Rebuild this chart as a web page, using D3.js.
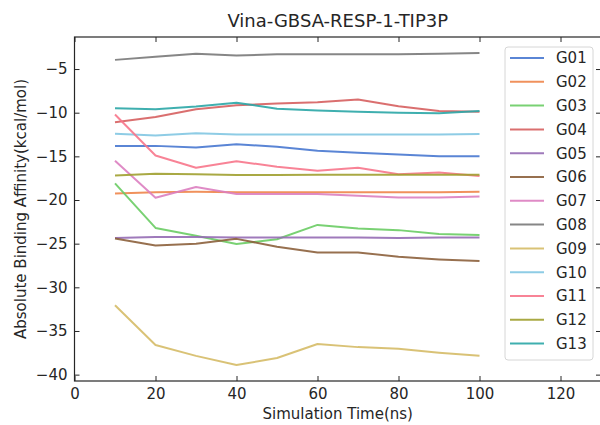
<!DOCTYPE html>
<html>
<head>
<meta charset="utf-8">
<script src="https://cdn.jsdelivr.net/npm/d3@7"></script>
<style>
body { margin: 0; background: #fff; }
text { font-family: "DejaVu Sans", sans-serif; fill: #262626; }
</style>
</head>
<body>
<svg id="chart" width="600" height="425"></svg>
<script>
'use strict'

// simulation time (ns)
var times = [10, 20, 30, 40, 50, 60, 70, 80, 90, 100];

// binding affinity per group (kcal/mol)
var G01 = [-13.8, -13.8, -14.0, -13.6, -13.9, -14.35, -14.6, -14.8, -15.0, -15.0];
var G02 = [-19.25, -19.1, -19.05, -19.1, -19.1, -19.1, -19.1, -19.1, -19.1, -19.05];
var G03 = [-18.1, -23.2, -24.1, -25.05, -24.5, -22.85, -23.25, -23.45, -23.9, -24.0];
var G04 = [-11.1, -10.5, -9.6, -9.15, -8.95, -8.8, -8.5, -9.25, -9.8, -9.9];
var G05 = [-24.35, -24.25, -24.25, -24.3, -24.3, -24.3, -24.3, -24.35, -24.3, -24.3];
var G06 = [-24.4, -25.2, -25.0, -24.45, -25.35, -26.0, -26.0, -26.5, -26.8, -27.0];
var G07 = [-15.5, -19.75, -18.5, -19.3, -19.3, -19.3, -19.5, -19.7, -19.7, -19.6];
var G08 = [-3.95, -3.6, -3.25, -3.45, -3.3, -3.3, -3.3, -3.3, -3.25, -3.15];
var G09 = [-32.05, -36.6, -37.85, -38.9, -38.1, -36.5, -36.85, -37.05, -37.5, -37.85];
var G10 = [-12.4, -12.6, -12.35, -12.5, -12.5, -12.5, -12.5, -12.5, -12.5, -12.45];
var G11 = [-10.2, -14.9, -16.3, -15.55, -16.2, -16.65, -16.3, -17.05, -16.85, -17.25];
var G12 = [-17.2, -17.0, -17.05, -17.15, -17.15, -17.1, -17.1, -17.1, -17.1, -17.1];
var G13 = [-9.5, -9.6, -9.3, -8.85, -9.55, -9.75, -9.9, -10.0, -10.05, -9.8];

var seriesNames = ['G01', 'G02', 'G03', 'G04', 'G05', 'G06', 'G07', 'G08', 'G09', 'G10', 'G11', 'G12', 'G13'];
var seriesValues = [G01, G02, G03, G04, G05, G06, G07, G08, G09, G10, G11, G12, G13];

var xTicks = [0, 20, 40, 60, 80, 100, 120];
var yTicks = [-5, -10, -15, -20, -25, -30, -35, -40];

var palette = ['#4878d0', '#ee854a', '#6acc64', '#d65f5f', '#956cb4', '#8c613c', '#dc7ec0',
	'#797979', '#d5bb67', '#82c6e2', '#f7758b', '#a0a030', '#2aa6a6'];

var plot = { left: 74.5, right: 601, top: 37, bottom: 381 };

var xScale = d3.scaleLinear().domain([0, 130]).range([plot.left, plot.right]);
var yScale = d3.scaleLinear().domain([-40.73, -1.33]).range([plot.bottom, plot.top]);

var svg = d3.select('#chart');
var fmt = function(d){ return String(d).replace('-', '\u2212'); };

// lines
var line = d3.line()
	.x(function(d){ return xScale(d[0]); })
	.y(function(d){ return yScale(d[1]); });

seriesValues.forEach(function(vals, i){
	svg.append('path')
		.datum(times.map(function(t, j){ return [t, vals[j]]; }))
		.attr('fill', 'none')
		.attr('stroke', palette[i])
		.attr('stroke-width', 2)
		.attr('stroke-opacity', 0.9)
		.attr('stroke-linejoin', 'round')
		.attr('d', line);
});

// axes, ticks pointing inward on all four sides
function styleAxis(g){
	g.select('.domain').remove();
	g.selectAll('.tick line').attr('stroke', '#262626').attr('stroke-width', 1);
	g.selectAll('.tick text').attr('font-size', 15).style('font-family', '"DejaVu Sans", sans-serif').attr('fill', '#262626');
}

svg.append('g')
	.attr('transform', `translate(0, ${plot.bottom})`)
	.call(d3.axisBottom(xScale).tickValues(xTicks).tickSizeInner(-5).tickSizeOuter(0).tickPadding(7).tickFormat(fmt))
	.call(styleAxis);

svg.append('g')
	.attr('transform', `translate(${plot.left}, 0)`)
	.call(d3.axisLeft(yScale).tickValues(yTicks).tickSizeInner(-5).tickSizeOuter(0).tickPadding(7).tickFormat(fmt))
	.call(styleAxis);

svg.append('g')
	.attr('transform', `translate(0, ${plot.top})`)
	.call(d3.axisTop(xScale).tickValues(xTicks).tickSizeInner(-5).tickSizeOuter(0).tickFormat(''))
	.call(styleAxis);

svg.append('g')
	.attr('transform', `translate(${plot.right}, 0)`)
	.call(d3.axisRight(yScale).tickValues(yTicks).tickSizeInner(-5).tickSizeOuter(0).tickFormat(''))
	.call(styleAxis);

svg.append('rect')
	.attr('x', plot.left)
	.attr('y', plot.top)
	.attr('width', plot.right - plot.left)
	.attr('height', plot.bottom - plot.top)
	.attr('fill', 'none')
	.attr('stroke', '#262626')
	.attr('stroke-width', 1.2);

// titles
svg.append('text')
	.attr('x', (plot.left + plot.right) / 2)
	.attr('y', 26.5)
	.attr('text-anchor', 'middle')
	.attr('font-size', 18)
	.text('Vina-GBSA-RESP-1-TIP3P');

svg.append('text')
	.attr('x', (plot.left + plot.right) / 2)
	.attr('y', 419)
	.attr('text-anchor', 'middle')
	.attr('font-size', 15)
	.text('Simulation Time(ns)');

svg.append('text')
	.attr('transform', `translate(26, ${(plot.top + plot.bottom) / 2}) rotate(-90)`)
	.attr('text-anchor', 'middle')
	.attr('font-size', 15)
	.text('Absolute Binding Affinity(kcal/mol)');

// legend
var legend = svg.append('g').attr('transform', 'translate(505, 47)');

legend.append('rect')
	.attr('width', 88)
	.attr('height', 313)
	.attr('rx', 3)
	.attr('fill', '#fff')
	.attr('fill-opacity', 0.8)
	.attr('stroke', '#d6d6d6')
	.attr('stroke-width', 1);

var item = legend.selectAll('g.item')
	.data(seriesNames)
	.enter()
	.append('g')
	.attr('class', 'item')
	.attr('transform', function(d, i){ return `translate(0, ${11 + i * 23.8})`; });

item.append('line')
	.attr('x1', 5)
	.attr('x2', 39)
	.attr('stroke', function(d, i){ return palette[i]; })
	.attr('stroke-width', 2)
	.attr('stroke-opacity', 0.9);

item.append('text')
	.attr('x', 51)
	.attr('dy', '0.36em')
	.attr('font-size', 15)
	.text(function(d){ return d; });
</script>
</body>
</html>
